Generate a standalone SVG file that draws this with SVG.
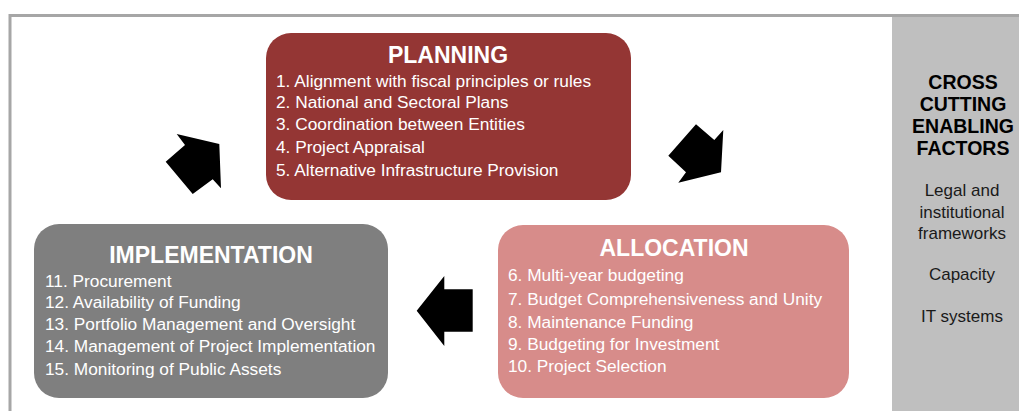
<svg xmlns="http://www.w3.org/2000/svg" width="1019" height="411" viewBox="0 0 1019 411">
<style>
.title{font-family:"Liberation Sans",Arial,sans-serif;font-weight:bold;font-size:23px;fill:#ffffff;text-anchor:middle}
.item{font-family:"Liberation Sans",Arial,sans-serif;font-size:17.3px;fill:#ffffff}
.side{font-family:"Liberation Sans",Arial,sans-serif;font-size:17px;fill:#1a1a1a;text-anchor:middle}
.sideb{font-family:"Liberation Sans",Arial,sans-serif;font-size:19.5px;font-weight:bold;fill:#000000;text-anchor:middle}
.arrow{fill:#000000}
</style>
<rect x="0" y="0" width="1019" height="411" fill="#ffffff"/>
<rect x="892" y="17" width="127" height="394" fill="#bfbfbf"/>
<path d="M10 411 V15.5 H1019" fill="none" stroke="#a6a6a6" stroke-width="3"/>
<g id="planning">
<rect x="266" y="33" width="365" height="167" rx="25" fill="#943634"/>
<text class="title" x="448" y="63">PLANNING</text>
<text class="item" x="276" y="87">1. Alignment with fiscal principles or rules</text>
<text class="item" x="276" y="108">2. National and Sectoral Plans</text>
<text class="item" x="276" y="130">3. Coordination between Entities</text>
<text class="item" x="276" y="153">4. Project Appraisal</text>
<text class="item" x="276" y="176">5. Alternative Infrastructure Provision</text>
</g>
<g id="allocation">
<rect x="498" y="225" width="351" height="173" rx="25" fill="#d78c8a"/>
<text class="title" x="674" y="256">ALLOCATION</text>
<text class="item" x="508" y="281">6. Multi-year budgeting</text>
<text class="item" x="508" y="305">7. Budget Comprehensiveness and Unity</text>
<text class="item" x="508" y="328">8. Maintenance Funding</text>
<text class="item" x="508" y="350">9. Budgeting for Investment</text>
<text class="item" x="508" y="372">10. Project Selection</text>
</g>
<g id="implementation">
<rect x="34" y="224" width="354" height="174" rx="25" fill="#7f7f7f"/>
<text class="title" x="211" y="263">IMPLEMENTATION</text>
<text class="item" x="45" y="287">11. Procurement</text>
<text class="item" x="45" y="308">12. Availability of Funding</text>
<text class="item" x="45" y="330">13. Portfolio Management and Oversight</text>
<text class="item" x="45" y="352">14. Management of Project Implementation</text>
<text class="item" x="45" y="375">15. Monitoring of Public Assets</text>
</g>
<g id="enablers">
<text class="sideb" x="963" y="89">CROSS</text>
<text class="sideb" x="963" y="111">CUTTING</text>
<text class="sideb" x="963" y="133">ENABLING</text>
<text class="sideb" x="963" y="155">FACTORS</text>
<text class="side" x="962" y="196">Legal and</text>
<text class="side" x="962" y="218">institutional</text>
<text class="side" x="962" y="239">frameworks</text>
<text class="side" x="962" y="280">Capacity</text>
<text class="side" x="962" y="322">IT systems</text>
</g>
<g id="connectors">
<polygon class="arrow" points="176.7,134 219.3,144 221,188.3 212.7,179.3 192.7,194 165.7,161.7 185,145"/>
<polygon class="arrow" points="696,124.3 714.3,140 723.3,130 721,172.3 678.3,182.7 686,172.3 668.3,155.7"/>
<polygon class="arrow" points="416.7,310.7 444.3,276 444.3,289.3 472.7,289.3 472.7,331.7 444.3,331.7 444.3,346"/>
</g>
</svg>
